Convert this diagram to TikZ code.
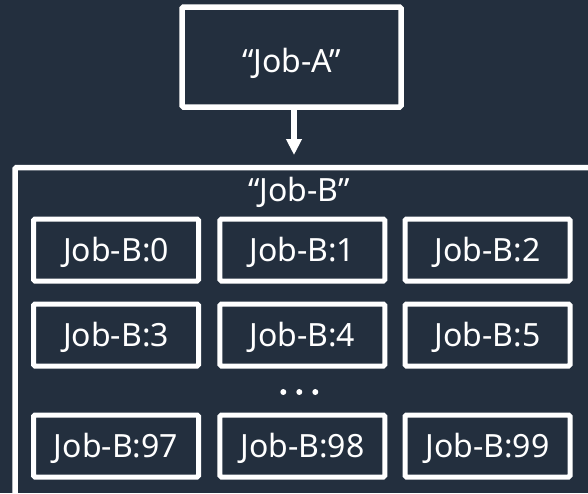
\documentclass[tikz,border=0pt]{standalone}
\usepackage{fontspec}
\setmainfont{Noto Sans}
\usetikzlibrary{arrows.meta}
\definecolor{bg}{HTML}{232F3E}
\begin{document}
\begin{tikzpicture}[x=1pt,y=-1pt,
  jobtext/.style={text=white, font=\fontsize{32}{36}\selectfont, inner sep=0pt,
                  text height=23pt, text depth=0pt},
  jobbox/.style={jobtext, draw=white, line width=5pt, rounded corners=1.5pt,
                 minimum width=165pt, minimum height=62pt},
  groupbox/.style={draw=white, line width=5.5pt, rounded corners=1.5pt, inner sep=0pt},
  flow/.style={draw=white, line width=5.5pt, -{Triangle[length=16pt,width=15pt]}},
  dot/.style={circle, fill=white, inner sep=0pt, minimum size=6pt}]
  % canvas
  \fill[bg] (0,0) rectangle (588,493);
  \useasboundingbox (0,0) rectangle (588,493);
  \clip (0,0) rectangle (588,493);

  % parent job
  \node[jobbox, line width=5.5pt, minimum width=219pt, minimum height=100pt] (jobA) at (291.5,57) {};
  \node[jobtext] (jobAlabel) at (291.7,61) {“Job-A”};

  % array job container (runs past the right and bottom edges)
  \node[groupbox, anchor=north west, minimum width=700pt, minimum height=400pt] (jobB) at (12.3,164.8) {};
  \node[jobtext] (jobBlabel) at (299,190) {“Job-B”};

  % child jobs
  \node[jobbox] (b0)  at (116,250)   {Job-B:0};
  \node[jobbox] (b1)  at (302.3,250) {Job-B:1};
  \node[jobbox] (b2)  at (487.5,250) {Job-B:2};
  \node[jobbox] (b3)  at (116,335)   {Job-B:3};
  \node[jobbox] (b4)  at (302.3,335) {Job-B:4};
  \node[jobbox] (b5)  at (487.5,335) {Job-B:5};
  \node[jobbox] (b97) at (116,446)   {Job-B:97};
  \node[jobbox] (b98) at (302.3,446) {Job-B:98};
  \node[jobbox] (b99) at (487.5,446) {Job-B:99};

  % ellipsis between the rows
  \node[dot] (d1) at (283.3,392) {};
  \node[dot] (d2) at (299.3,392) {};
  \node[dot] (d3) at (315.3,392) {};

  % dependency arrow
  \coordinate (tipA) at (294,155);
  \draw[flow] (jobA.south -| tipA) -- (tipA);
\end{tikzpicture}
\end{document}
